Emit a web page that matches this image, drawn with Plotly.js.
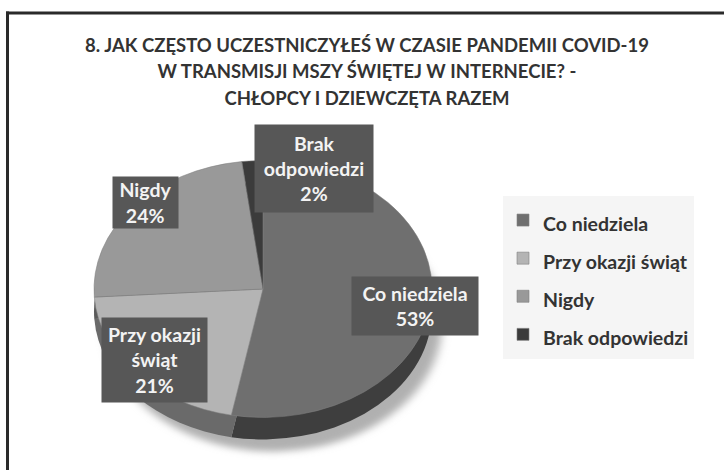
<!DOCTYPE html>
<html>
<head>
<meta charset="utf-8">
<script src="https://cdn.plot.ly/plotly-3.0.1.min.js"></script>
<style>html,body{margin:0;padding:0;background:#fff;}#chart{width:724px;height:470px;}</style>
</head>
<body>
<div id="chart"></div>
<script>
// ---- data ----
const categories = ['Co niedziela', 'Przy okazji świąt', 'Nigdy', 'Brak odpowiedzi'];
const values = [53, 21, 24, 2];
const boxLabels = ['Co niedziela', 'Przy okazji<br>świąt', 'Nigdy', 'Brak<br>odpowiedzi'];
const titleLines = [
  '8. JAK CZĘSTO UCZESTNICZYŁEŚ W CZASIE PANDEMII COVID-19',
  'W TRANSMISJI MSZY ŚWIĘTEJ W INTERNECIE? -',
  'CHŁOPCY I DZIEWCZĘTA RAZEM'
];
const topColors = ['#6f6f6f', '#b4b4b4', '#999999', '#3b3b3b'];
const sideColors = ['#3e3e3e', '#6a6a6a', '#5a5a5a', '#222222'];
const shadowColors = ['#b0b0b0', '#b0b0b0', '#b0b0b0', '#b0b0b0'];

// ---- geometry ----
const W = 724, H = 470;
const cxPx = 263, cyPx = 289, R = 169, squash = 0.76, rim = 22;
const dom = {
  x: [(cxPx - R) / W, (cxPx + R) / W],
  y: [(H - cyPx - R) / H, (H - cyPx + R) / H]
};
const FONT = 'Lato, "Open Sans", sans-serif';

const total = values.reduce((a, b) => a + b, 0);
const pct = values.map(v => Math.round(100 * v / total) + '%');

const common = {
  type: 'pie', values: values, sort: false, direction: 'clockwise', rotation: 0,
  domain: dom, textinfo: 'none', hoverinfo: 'label+percent'
};
const legendLabels = categories.map(c => '<span style="font-size:19.5px">' + c + '</span>');

const data = [
  Object.assign({}, common, {labels: legendLabels, marker: {colors: shadowColors, line: {width: 0}}, showlegend: false, name: 'shadow'}),
  Object.assign({}, common, {labels: legendLabels, marker: {colors: sideColors, line: {width: 0}}, showlegend: false, name: 'side'}),
  Object.assign({}, common, {labels: legendLabels, marker: {colors: topColors, line: {width: 0.6, color: '#808080'}}, name: 'top'})
];

// label boxes (center px, size px)
const boxes = [
  {x: 415, y: 306, w: 126, h: 58},
  {x: 154.5, y: 360, w: 105, h: 84},
  {x: 145.5, y: 202.5, w: 65, h: 51},
  {x: 314, y: 168.5, w: 118, h: 87}
];
const annotations = boxes.map((b, i) => ({
  xref: 'paper', yref: 'paper', x: b.x / W, y: 1 - b.y / H,
  xanchor: 'center', yanchor: 'middle', showarrow: false,
  text: boxLabels[i] + '<br>' + pct[i],
  width: b.w, height: b.h, borderpad: 0, bgcolor: '#575757',
  font: {family: FONT, size: 19.5, color: '#f3f3f3', weight: 'bold'}, align: 'center'
}));

const layout = {
  width: W, height: H, margin: {l: 0, r: 0, t: 0, b: 0},
  paper_bgcolor: '#ffffff', plot_bgcolor: '#ffffff',
  title: {
    text: titleLines.map(t => '<span style="font-size:18.5px">' + t + '</span>').join('<br>'),
    font: {family: FONT, size: 20.2, color: '#333333', weight: 'bold'},
    x: 367 / W, xanchor: 'center', y: 1 - 52 / H, yanchor: 'top'
  },
  showlegend: true,
  legend: {
    x: 503 / W, y: 1 - 196 / H, xanchor: 'left', yanchor: 'top',
    bgcolor: '#f5f5f5', borderwidth: 0,
    font: {family: FONT, size: 27, color: '#333333', weight: 'bold'}
  },
  annotations: annotations,
  shapes: [
    {type: 'rect', xref: 'paper', yref: 'paper', x0: 6 / W, x1: 1, y0: 1 - 14.5 / H, y1: 1 - 11.5 / H,
     fillcolor: '#2a2a2a', line: {width: 0}, layer: 'above'},
    {type: 'rect', xref: 'paper', yref: 'paper', x0: 6 / W, x1: 9 / W, y0: 0, y1: 1 - 11.5 / H,
     fillcolor: '#2a2a2a', line: {width: 0}, layer: 'above'}
  ]
};

Plotly.newPlot('chart', data, layout, {displayModeBar: false, staticPlot: true}).then(gd => {
  const svg = gd.querySelector('svg.main-svg');
  const NS = 'http://www.w3.org/2000/svg';
  let defs = svg.querySelector('defs');
  if (!defs) { defs = document.createElementNS(NS, 'defs'); svg.insertBefore(defs, svg.firstChild); }
  const filt = document.createElementNS(NS, 'filter');
  filt.setAttribute('id', 'pieShadowBlur');
  filt.setAttribute('x', '-20%'); filt.setAttribute('y', '-20%');
  filt.setAttribute('width', '140%'); filt.setAttribute('height', '140%');
  const blur = document.createElementNS(NS, 'feGaussianBlur');
  blur.setAttribute('stdDeviation', '5');
  filt.appendChild(blur);
  defs.appendChild(filt);

  const traces = gd.querySelectorAll('.pielayer g.trace');
  const offs = [rim + 12, rim, 0];
  traces.forEach((g, i) => {
    g.setAttribute('transform', 'translate(' + (i === 0 ? 10 : 0) + ',' + (cyPx * (1 - squash) + offs[i]) + ') scale(1,' + squash + ')');
    if (i === 0) g.setAttribute('filter', 'url(#pieShadowBlur)');
  });
});
</script>
</body>
</html>
